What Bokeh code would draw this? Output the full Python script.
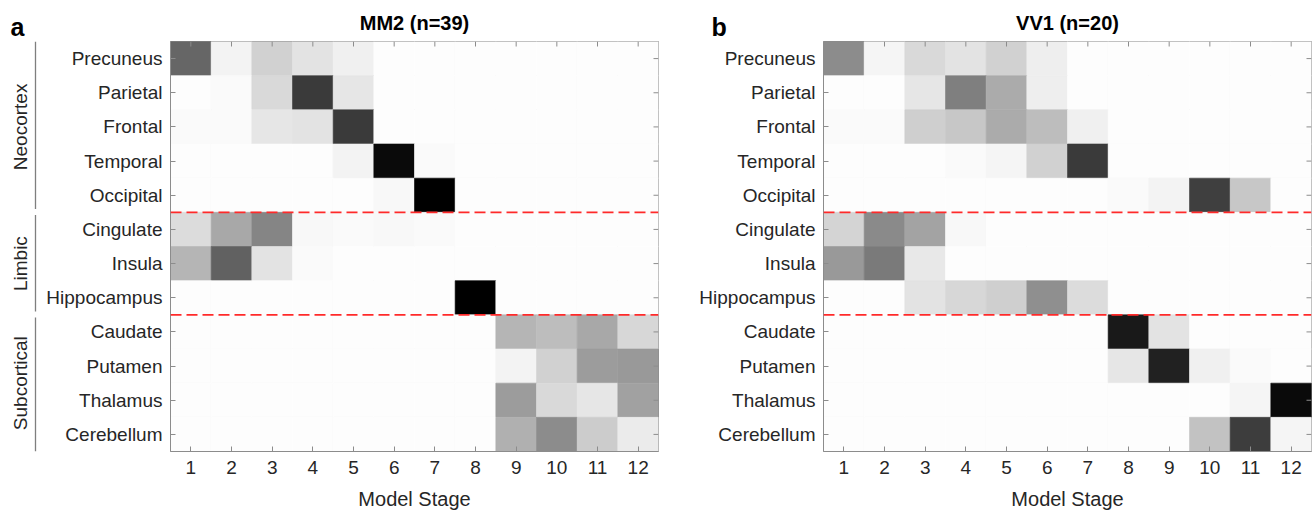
from math import pi
from bokeh.plotting import figure
from bokeh.models import (ColumnDataSource, LinearColorMapper, FixedTicker,
                          Span, Range1d)
from bokeh.transform import transform
from bokeh.layouts import row, column
from bokeh.embed import file_html
from bokeh.resources import INLINE
from bokeh.core.properties import value

# ---------------- data ----------------
stages = [1, 2, 3, 4, 5, 6, 7, 8, 9, 10, 11, 12]
regions = ["Precuneus", "Parietal", "Frontal", "Temporal", "Occipital",
           "Cingulate", "Insula", "Hippocampus",
           "Caudate", "Putamen", "Thalamus", "Cerebellum"]
groups = ["Neocortex", "Limbic", "Subcortical"]
group_sizes = [5, 3, 4]

panel_letters = ["a", "b"]
panel_titles = ["MM2 (n=39)", "VV1 (n=20)"]

# probability of each region being abnormal at each model stage (0 = white, 1 = black)
mm2_values = [
    [0.60, 0.05, 0.18, 0.11, 0.06, 0.01, 0.01, 0.01, 0.01, 0.01, 0.01, 0.01],  # Precuneus
    [0.01, 0.02, 0.15, 0.77, 0.10, 0.01, 0.01, 0.01, 0.01, 0.01, 0.01, 0.01],  # Parietal
    [0.02, 0.02, 0.10, 0.11, 0.77, 0.01, 0.01, 0.01, 0.01, 0.01, 0.01, 0.01],  # Frontal
    [0.01, 0.01, 0.01, 0.01, 0.05, 0.96, 0.02, 0.01, 0.01, 0.01, 0.01, 0.01],  # Temporal
    [0.01, 0.01, 0.01, 0.01, 0.01, 0.03, 1.00, 0.01, 0.01, 0.01, 0.01, 0.01],  # Occipital
    [0.14, 0.34, 0.48, 0.03, 0.02, 0.03, 0.02, 0.01, 0.01, 0.01, 0.01, 0.01],  # Cingulate
    [0.29, 0.62, 0.11, 0.02, 0.01, 0.01, 0.01, 0.01, 0.01, 0.01, 0.01, 0.01],  # Insula
    [0.01, 0.01, 0.01, 0.01, 0.01, 0.01, 0.01, 1.00, 0.01, 0.01, 0.01, 0.01],  # Hippocampus
    [0.01, 0.01, 0.01, 0.01, 0.01, 0.01, 0.01, 0.01, 0.29, 0.26, 0.34, 0.16],  # Caudate
    [0.01, 0.01, 0.01, 0.01, 0.01, 0.01, 0.01, 0.01, 0.05, 0.18, 0.39, 0.40],  # Putamen
    [0.01, 0.01, 0.01, 0.01, 0.01, 0.01, 0.01, 0.01, 0.39, 0.15, 0.10, 0.37],  # Thalamus
    [0.01, 0.01, 0.01, 0.01, 0.01, 0.01, 0.01, 0.01, 0.31, 0.45, 0.20, 0.08],  # Cerebellum
]

vv1_values = [
    [0.45, 0.04, 0.15, 0.11, 0.18, 0.07, 0.01, 0.01, 0.01, 0.01, 0.01, 0.01],  # Precuneus
    [0.01, 0.01, 0.10, 0.50, 0.33, 0.07, 0.01, 0.01, 0.01, 0.01, 0.01, 0.01],  # Parietal
    [0.02, 0.02, 0.19, 0.22, 0.33, 0.26, 0.06, 0.01, 0.01, 0.01, 0.01, 0.01],  # Frontal
    [0.01, 0.01, 0.01, 0.02, 0.04, 0.18, 0.77, 0.01, 0.01, 0.01, 0.01, 0.01],  # Temporal
    [0.01, 0.01, 0.01, 0.01, 0.01, 0.01, 0.01, 0.02, 0.05, 0.75, 0.22, 0.01],  # Occipital
    [0.17, 0.46, 0.36, 0.03, 0.01, 0.01, 0.01, 0.01, 0.01, 0.01, 0.01, 0.01],  # Cingulate
    [0.40, 0.52, 0.09, 0.01, 0.01, 0.01, 0.01, 0.01, 0.01, 0.01, 0.01, 0.01],  # Insula
    [0.01, 0.01, 0.11, 0.16, 0.19, 0.44, 0.14, 0.01, 0.01, 0.01, 0.01, 0.01],  # Hippocampus
    [0.01, 0.01, 0.01, 0.01, 0.01, 0.01, 0.01, 0.90, 0.11, 0.01, 0.01, 0.01],  # Caudate
    [0.01, 0.01, 0.01, 0.01, 0.01, 0.01, 0.01, 0.10, 0.87, 0.06, 0.02, 0.01],  # Putamen
    [0.01, 0.01, 0.01, 0.01, 0.01, 0.01, 0.01, 0.01, 0.01, 0.01, 0.04, 0.96],  # Thalamus
    [0.01, 0.01, 0.01, 0.01, 0.01, 0.01, 0.01, 0.01, 0.01, 0.24, 0.76, 0.04],  # Cerebellum
]

# ---------------- layout / style ----------------
FONT = "Liberation Sans"
AX_GRAY = "#8c8c8c"
TXT = "#262626"
W_TOTAL = 1313
STRIP_H = 40            # title strip on top
H = 474                 # height of the plot row
TOP, BOTTOM = 1, 63
FRAME_W = 488
G_W = 40                # group label strip width
P1_LEFT, P2_LEFT = 130, 163
P1_W = P1_LEFT + FRAME_W + 2
P2_W = W_TOTAL - G_W - P1_W
ROW_H = (H - TOP - BOTTOM) / len(regions)
COL_W = FRAME_W / len(stages)
TICK_LEN = 5

gray_palette = ["#%02x%02x%02x" % (255 - i, 255 - i, 255 - i) for i in range(256)]
mapper = LinearColorMapper(palette=gray_palette, low=0, high=1)

row_ticks = list(range(1, len(regions) + 1))

bounds = []
acc = 0
for s in group_sizes[:-1]:
    acc += s
    bounds.append(acc + 0.5)


def heatmap(values, width, border_left):
    xs, ys, vs = [], [], []
    for i, rv in enumerate(values):
        for j, v in enumerate(rv):
            xs.append(stages[j])
            ys.append(row_ticks[i])
            vs.append(v)
    src = ColumnDataSource(dict(x=xs, y=ys, v=vs))

    p = figure(width=width, height=H,
               x_range=Range1d(0.5, len(stages) + 0.5),
               y_range=Range1d(len(regions) + 0.5, 0.5),
               output_backend="svg", toolbar_location=None,
               min_border_left=border_left, min_border_right=2,
               min_border_top=TOP, min_border_bottom=BOTTOM)
    p.grid.visible = False
    p.background_fill_color = "white"
    p.border_fill_color = "white"
    p.outline_line_color = AX_GRAY
    p.outline_line_width = 1

    p.rect("x", "y", width=1, height=1, source=src,
           fill_color=transform("v", mapper),
           line_color=transform("v", mapper), line_width=0.6)

    for b in bounds:
        p.add_layout(Span(location=b, dimension="width", line_color="#ff2a2a",
                          line_dash="11 5", line_width=1.6))

    # inward ticks on the top and right edges (box-style axes)
    top_edge = 0.5
    right_edge = len(stages) + 0.5
    p.segment(x0=stages, y0=[top_edge] * len(stages),
              x1=stages, y1=[top_edge + TICK_LEN / ROW_H] * len(stages),
              line_color=AX_GRAY, line_width=1)
    p.segment(x0=[right_edge] * len(row_ticks), y0=row_ticks,
              x1=[right_edge - TICK_LEN / COL_W] * len(row_ticks), y1=row_ticks,
              line_color=AX_GRAY, line_width=1)

    xa = p.xaxis[0]
    xa.ticker = FixedTicker(ticks=stages)
    xa.axis_label = "Model Stage"
    ya = p.yaxis[0]
    ya.ticker = FixedTicker(ticks=row_ticks)
    ya.major_label_overrides = {t: r for t, r in zip(row_ticks, regions)}
    for ax in (xa, ya):
        ax.major_tick_in = TICK_LEN
        ax.major_tick_out = 0
        ax.minor_tick_line_color = None
        ax.axis_line_color = AX_GRAY
        ax.major_tick_line_color = AX_GRAY
        ax.major_label_text_font = FONT
        ax.major_label_text_font_size = "19px"
        ax.major_label_text_color = TXT
        ax.axis_label_text_font = FONT
        ax.axis_label_text_font_size = "20px"
        ax.axis_label_text_font_style = "normal"
        ax.axis_label_text_color = TXT
    xa.major_label_standoff = 9
    xa.axis_label_standoff = 11
    ya.major_label_standoff = 8
    return p


# ---- group label strip (left) ----
g = figure(width=G_W, height=H, x_range=Range1d(0, G_W),
           y_range=Range1d(len(regions) + 0.5, 0.5),
           output_backend="svg", toolbar_location=None,
           x_axis_location=None, y_axis_location=None,
           min_border_left=0, min_border_right=0,
           min_border_top=TOP, min_border_bottom=BOTTOM)
g.grid.visible = False
g.outline_line_color = None
g.background_fill_color = "white"
g.border_fill_color = "white"

centers, y0s, y1s = [], [], []
acc = 0
for s in group_sizes:
    centers.append(acc + (s + 1) / 2)
    y0s.append(acc + 0.5 + (0.0 if acc == 0 else 0.08))
    y1s.append(acc + s + 0.5 - (0.0 if acc + s == len(regions) else 0.1))
    acc += s

g.segment(x0=[35] * len(groups), y0=y0s, x1=[35] * len(groups), y1=y1s,
          line_color="#7f7f7f", line_width=1.3)
g.text(x=[20] * len(groups), y=centers, text=groups, angle=pi / 2,
       text_align="center", text_baseline="middle",
       text_font=value(FONT), text_font_size="19px", text_color=TXT)

p1 = heatmap(mm2_values, P1_W, P1_LEFT)
p2 = heatmap(vv1_values, P2_W, P2_LEFT)

# ---- title strip (top) ----
frame1_left = G_W + P1_LEFT
frame2_left = G_W + P1_W + P2_LEFT
title_x = [frame1_left + FRAME_W / 2, frame2_left + FRAME_W / 2]
letter_x = [10, 711]

t = figure(width=W_TOTAL, height=STRIP_H, x_range=Range1d(0, W_TOTAL),
           y_range=Range1d(STRIP_H, 0),
           output_backend="svg", toolbar_location=None,
           x_axis_location=None, y_axis_location=None,
           min_border_left=0, min_border_right=0,
           min_border_top=0, min_border_bottom=0)
t.grid.visible = False
t.outline_line_color = None
t.background_fill_color = "white"
t.border_fill_color = "white"
t.text(x=title_x, y=[22, 22], text=panel_titles, text_align="center",
       text_baseline="alphabetic", text_font=value(FONT),
       text_font_size="20px", text_font_style="bold", text_color="black")
t.text(x=letter_x, y=[26, 26], text=panel_letters, text_align="left",
       text_baseline="alphabetic", text_font=value(FONT),
       text_font_size="25px", text_font_style="bold", text_color="black")

layout = column(t, row(g, p1, p2))
open("out.html", "w").write(file_html(layout, INLINE))
